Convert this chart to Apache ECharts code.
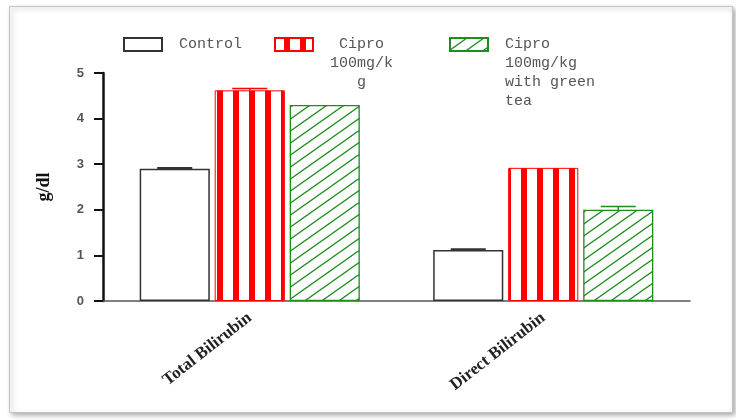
<!DOCTYPE html>
<html><head><meta charset="utf-8">
<script src="https://cdn.jsdelivr.net/npm/echarts@6/dist/echarts.min.js"></script>
<style>html,body{margin:0;padding:0;background:#fff}#c{width:736px;height:420px}</style>
</head><body><div id="c"></div>
<script>
var categories = ['Total Bilirubin', 'Direct Bilirubin'];
var seriesNames = ['Control', 'Cipro 100mg/kg', 'Cipro 100mg/kg with green tea'];
var controlValues = [2.9, 1.12];
var ciproValues = [4.62, 2.92];
var greenTeaValues = [4.3, 2.0];
var controlErr = [0.01, 0.01];
var ciproErr = [0.04, 0.0];
var greenTeaErr = [0.0, 0.07];
var yTicks = [0, 1, 2, 3, 4, 5];

var RED = '#ff0000', GREEN = '#1f8c1f', DARK = '#333333';

function stripeCanvas(){
  var c = document.createElement('canvas'); c.width = 16; c.height = 16;
  var g = c.getContext('2d');
  g.fillStyle = '#fff'; g.fillRect(0,0,16,16);
  g.fillStyle = RED; g.fillRect(0,0,6,16);
  return c;
}
function hatchCanvas(){
  var w = 17, h = 12;
  var c = document.createElement('canvas'); c.width = w; c.height = h;
  var g = c.getContext('2d');
  g.fillStyle = '#fff'; g.fillRect(0,0,w,h);
  g.strokeStyle = GREEN; g.lineWidth = 1.4;
  for (var k = -1; k <= 1; k++){
    g.beginPath(); g.moveTo(-1, h + k*h + h/w); g.lineTo(w+1, k*h - h/w); g.stroke();
  }
  return c;
}

var BAR_GAP = 0.07, CAT_GAP = 0.25;
var errColors = [DARK, RED, GREEN];
var errData = [];
[controlValues, ciproValues, greenTeaValues].forEach(function(vals, si){
  var errs = [controlErr, ciproErr, greenTeaErr][si];
  vals.forEach(function(v, ci){ if (errs[ci] > 0) errData.push([ci, v, errs[ci], si]); });
});

function renderErr(params, api){
  var ci = api.value(0), v = api.value(1), e = api.value(2), si = api.value(3);
  var base = api.coord([ci, v]);
  var top = api.coord([ci, v + e]);
  var band = api.size([1, 0])[0];
  var w = band * (1 - CAT_GAP) / (3 + 2 * BAR_GAP);
  var cx = base[0] - band * (1 - CAT_GAP) / 2 + w / 2 + si * w * (1 + BAR_GAP);
  var half = w * 0.25;
  var col = errColors[si];
  var lw = si === 0 ? 2.5 : 1.5;
  return {type: 'group', children: [
    {type: 'line', shape: {x1: cx, y1: base[1], x2: cx, y2: top[1]}, style: {stroke: col, lineWidth: 1.5}},
    {type: 'line', shape: {x1: cx - half, y1: top[1], x2: cx + half, y2: top[1]}, style: {stroke: col, lineWidth: lw}}
  ]};
}

var LH = 19, ICON_H = 13, ICON_TOP = 38;
var tok = {fontFamily: 'Liberation Mono', fontSize: 15, color: '#555', lineHeight: LH};
function mkLegend(name, left, lines, align){
  var rich = {c: Object.assign({align: align}, tok)};
  var display = lines.map(function(s){ return '{c|' + s + '}'; }).join('\n');
  var n = lines.length;
  var ts = Object.assign({}, tok, {padding: [(n - 1) * LH, 0, 0, 12], rich: rich});
  var boxH = n * LH + (n - 1) * LH;
  var shift = Math.max(0, boxH / 2 - ICON_H / 2);
  return {
    left: left, top: ICON_TOP - shift, padding: 0, itemWidth: 38, itemHeight: ICON_H, selectedMode: false,
    data: [{name: name, icon: 'rect'}],
    formatter: function(){ return display; },
    textStyle: ts
  };
}

var chart = echarts.init(document.getElementById('c'), null, {renderer: 'canvas'});
chart.setOption({
  animation: false,
  backgroundColor: '#fff',
  graphic: [{
    type: 'rect', left: 9, top: 6, z: -10, silent: true,
    shape: {width: 723, height: 406},
    style: {fill: '#fff', stroke: '#c4c4c4', lineWidth: 1, shadowBlur: 5, shadowOffsetX: 2, shadowOffsetY: 2, shadowColor: 'rgba(0,0,0,0.35)'}
  }],
  legend: [
    mkLegend(seriesNames[0], 123, ['Control'], 'left'),
    mkLegend(seriesNames[1], 274, ['Cipro', '100mg/k', 'g'], 'center'),
    mkLegend(seriesNames[2], 449, ['Cipro', '100mg/kg', 'with green', 'tea'], 'left')
  ],
  grid: {left: 103, right: 46, top: 73, bottom: 119, containLabel: false},
  xAxis: {
    type: 'category', data: categories,
    axisLine: {lineStyle: {color: '#555', width: 1.5}},
    axisTick: {alignWithLabel: true, length: 6, lineStyle: {color: '#111', width: 3}},
    axisLabel: {rotate: 38, margin: 15, fontFamily: 'Liberation Serif', fontWeight: 'bold', fontSize: 17, color: '#222'}
  },
  yAxis: {
    type: 'value', min: yTicks[0], max: yTicks[yTicks.length - 1], interval: 1,
    name: 'g/dl', nameLocation: 'middle', nameGap: 50, nameRotate: 90,
    nameTextStyle: {fontFamily: 'Liberation Serif', fontWeight: 'bold', fontSize: 18, color: '#111'},
    axisLine: {show: true, lineStyle: {color: '#111', width: 2.5}},
    axisTick: {show: true, length: 9, lineStyle: {color: '#111', width: 2}},
    axisLabel: {margin: 19, fontFamily: 'Liberation Sans', fontWeight: 'bold', fontSize: 13, color: '#555'},
    splitLine: {show: false}
  },
  series: [
    {name: seriesNames[0], type: 'bar', data: controlValues, barGap: (BAR_GAP * 100) + '%', barCategoryGap: (CAT_GAP * 100) + '%',
      itemStyle: {color: '#fff', borderColor: DARK, borderWidth: 1.5}},
    {name: seriesNames[1], type: 'bar', data: ciproValues,
      itemStyle: {color: {image: stripeCanvas(), repeat: 'repeat', x: 9}, borderColor: RED, borderWidth: 1}},
    {name: seriesNames[2], type: 'bar', data: greenTeaValues,
      itemStyle: {color: {image: hatchCanvas(), repeat: 'repeat'}, borderColor: GREEN, borderWidth: 1.3}},
    {type: 'custom', renderItem: renderErr, data: errData, z: 5, encode: {x: 0, y: 1}}
  ]
});
</script></body></html>
